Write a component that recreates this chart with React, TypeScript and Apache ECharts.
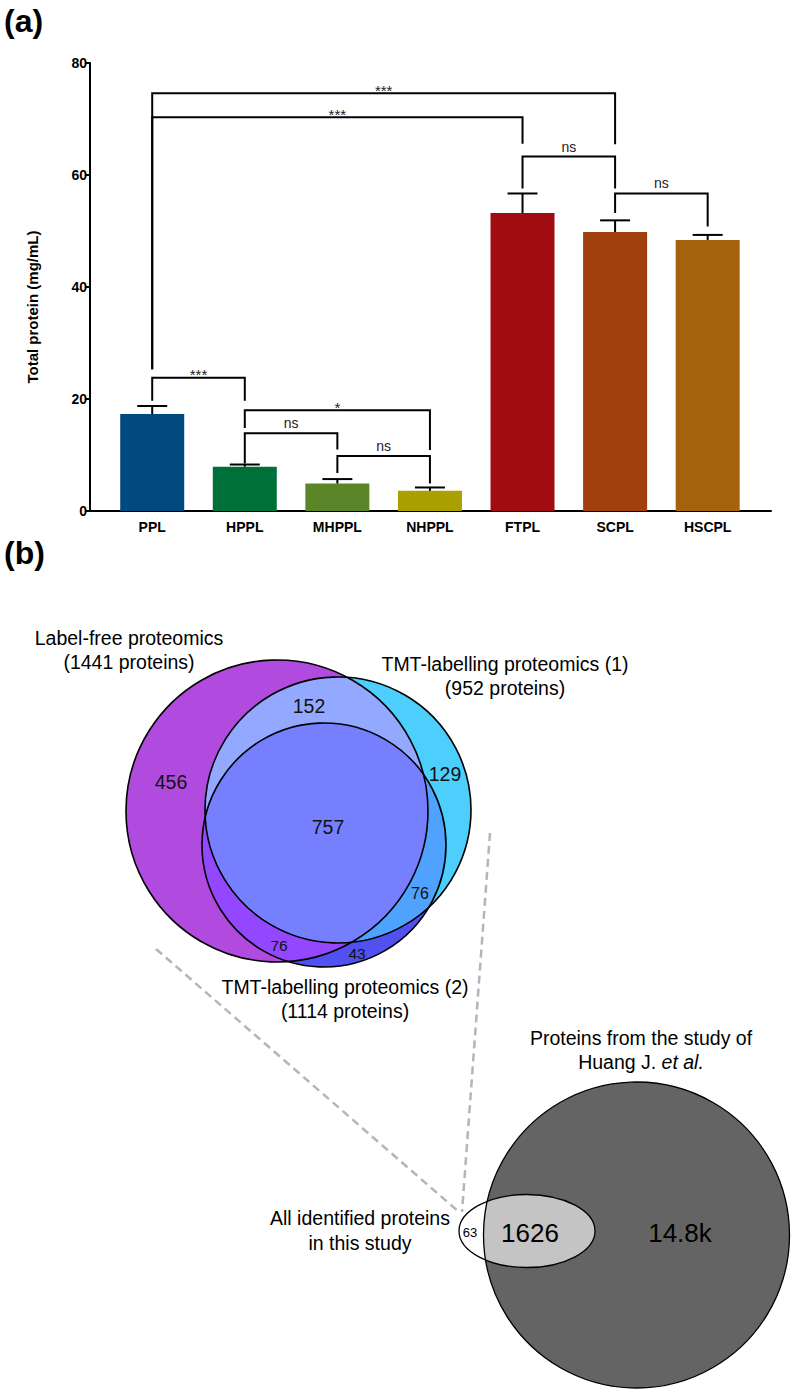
import React, { useEffect, useRef } from 'react';
import * as echarts from 'echarts';

// ---------- Panel (a) data ----------
const categories = ['PPL', 'HPPL', 'MHPPL', 'NHPPL', 'FTPL', 'SCPL', 'HSCPL'];
const meanValues = [17.3, 7.9, 4.9, 3.6, 53.2, 49.8, 48.4];
const errorValues = [1.45, 0.4, 0.8, 0.6, 3.5, 2.1, 0.9];
const barColors = ['#004a7f', '#00703a', '#5a8629', '#aaa100', '#a00c12', '#a0410d', '#a3620b'];
const yTickValues = [0, 20, 40, 60, 80];

// significance brackets
const bracketFrom = [0, 0, 4, 5, 0, 1, 1, 2];
const bracketTo = [5, 4, 5, 6, 1, 3, 2, 3];
const bracketLevel = [74.6, 70.3, 63.3, 56.7, 23.8, 18.0, 13.9, 9.8];
const bracketLeftEnd = [25.3, 25.3, 57.6, 53.2, 19.7, 14.8, 8.5, 6.8];
const bracketRightEnd = [65.5, 65.6, 57.6, 50.8, 19.7, 10.9, 11.0, 4.9];
const bracketLabels = ['***', '***', 'ns', 'ns', '***', '*', 'ns', 'ns'];

// ---------- Panel (b) data ----------
const vennSetNames = ['Label-free proteomics', 'TMT-labelling proteomics (1)', 'TMT-labelling proteomics (2)'];
const vennSetSizes = [1441, 952, 1114];
// regions: A only, B only, C only, A∩B, A∩C, B∩C, A∩B∩C  (A label-free, B TMT1, C TMT2)
const vennRegionCounts = [456, 129, 43, 152, 76, 76, 757];
const studyLeftLines = ['All identified proteins', 'in this study'];
const studyRightLines = ['Proteins from the study of', 'Huang J. ', 'et al.'];
const studyRegionCounts = ['63', '1626', '14.8k'];

const FONT = "'Liberation Sans', Arial, Helvetica, sans-serif";

type Pt = [number, number];

function ellipsePts(cx: number, cy: number, rx: number, ry: number, n = 360): Pt[] {
  const pts: Pt[] = [];
  for (let i = 0; i < n; i++) {
    const t = (i / n) * Math.PI * 2;
    pts.push([cx + rx * Math.cos(t), cy + ry * Math.sin(t)]);
  }
  return pts;
}

function clipPoly(subject: Pt[], clip: Pt[]): Pt[] {
  let output = subject.slice();
  const cross = (a: Pt, b: Pt, p: Pt) => (b[0] - a[0]) * (p[1] - a[1]) - (b[1] - a[1]) * (p[0] - a[0]);
  const inter = (p: Pt, q: Pt, a: Pt, b: Pt): Pt => {
    const A1 = q[1] - p[1], B1 = p[0] - q[0], C1 = A1 * p[0] + B1 * p[1];
    const A2 = b[1] - a[1], B2 = a[0] - b[0], C2 = A2 * a[0] + B2 * a[1];
    const det = A1 * B2 - A2 * B1;
    if (Math.abs(det) < 1e-12) return p;
    return [(B2 * C1 - B1 * C2) / det, (A1 * C2 - A2 * C1) / det];
  };
  for (let i = 0; i < clip.length; i++) {
    const a = clip[i];
    const b = clip[(i + 1) % clip.length];
    const input = output;
    output = [];
    if (!input.length) break;
    for (let j = 0; j < input.length; j++) {
      const cur = input[j];
      const prev = input[(j + input.length - 1) % input.length];
      const curIn = cross(a, b, cur) >= 0;
      const prevIn = cross(a, b, prev) >= 0;
      if (curIn) {
        if (!prevIn) output.push(inter(prev, cur, a, b));
        output.push(cur);
      } else if (prevIn) {
        output.push(inter(prev, cur, a, b));
      }
    }
  }
  return output;
}

function buildGraphic() {
  const els: any[] = [];
  const txt = (x: number, y: number, text: string, size: number, extra: any = {}) => ({
    type: 'text', x, y, z: 20,
    style: { text, fill: '#000', fontSize: size, fontFamily: FONT, align: 'center', verticalAlign: 'middle', ...extra },
  });

  // panel labels
  els.push({ type: 'text', x: 4, y: 21, z: 20, style: { text: '(a)', fill: '#000', fontSize: 32, fontWeight: 'bold', fontFamily: FONT, align: 'left', verticalAlign: 'middle' } });
  els.push({ type: 'text', x: 4, y: 553, z: 20, style: { text: '(b)', fill: '#000', fontSize: 32, fontWeight: 'bold', fontFamily: FONT, align: 'left', verticalAlign: 'middle' } });

  // y-axis title
  els.push({ type: 'text', x: 32, y: 307, rotation: Math.PI / 2, z: 20, style: { text: 'Total protein (mg/mL)', fill: '#000', fontSize: 15, fontWeight: 'bold', fontFamily: FONT, align: 'center', verticalAlign: 'middle' } });

  // dashed zoom lines
  const dash = { stroke: '#b5b5b5', lineWidth: 2.5, lineDash: [8, 5] };
  els.push({ type: 'line', z: 1, shape: { x1: 156, y1: 949, x2: 459, y2: 1212 }, style: dash });
  els.push({ type: 'line', z: 1, shape: { x1: 490, y1: 833, x2: 462, y2: 1212 }, style: dash });

  // --- three-set Venn ---
  const A = { cx: 277, cy: 811, r: 151 };
  const B = { cx: 338, cy: 810, r: 133 };
  const C = { cx: 324, cy: 845, r: 122 };
  const pA = ellipsePts(A.cx, A.cy, A.r, A.r);
  const pB = ellipsePts(B.cx, B.cy, B.r, B.r);
  const pC = ellipsePts(C.cx, C.cy, C.r, C.r);
  const colA = '#b14ade', colB = '#4dcffd', colC = '#5151f2';
  const colAB = '#93a9ff', colAC = '#9347ff', colBC = '#4fa3ff', colABC = '#7680ff';
  els.push({ type: 'circle', z: 5, shape: A, style: { fill: colA } });
  els.push({ type: 'circle', z: 5, shape: B, style: { fill: colB } });
  els.push({ type: 'circle', z: 5, shape: C, style: { fill: colC } });
  const AB = clipPoly(pA, pB);
  const AC = clipPoly(pA, pC);
  const BC = clipPoly(pB, pC);
  const ABC = clipPoly(AB, pC);
  els.push({ type: 'polygon', z: 6, shape: { points: AB }, style: { fill: colAB } });
  els.push({ type: 'polygon', z: 6, shape: { points: AC }, style: { fill: colAC } });
  els.push({ type: 'polygon', z: 6, shape: { points: BC }, style: { fill: colBC } });
  els.push({ type: 'polygon', z: 7, shape: { points: ABC }, style: { fill: colABC } });
  [A, B, C].forEach((c) => els.push({ type: 'circle', z: 8, shape: c, style: { fill: null, stroke: '#000', lineWidth: 1.6 } }));

  // region counts
  const regionPos: Pt[] = [[171, 782], [445, 774], [357, 953], [309, 706], [279, 945], [420, 893], [328, 827]];
  const regionSize = [19.5, 19.5, 15.5, 19.5, 15.5, 16, 19.5];
  vennRegionCounts.forEach((v, i) => els.push(txt(regionPos[i][0], regionPos[i][1], String(v), regionSize[i], { fill: '#111' })));

  // set labels
  const setPos: Pt[] = [[129, 638], [505, 664], [345, 987]];
  vennSetNames.forEach((n, i) => {
    els.push(txt(setPos[i][0], setPos[i][1], n, 19.5));
    els.push(txt(setPos[i][0], setPos[i][1] + 24, '(' + vennSetSizes[i] + ' proteins)', 19.5));
  });

  // --- two-set Venn ---
  const G = { cx: 636.5, cy: 1235, r: 153 };
  const E = { cx: 527, cy: 1231, rx: 68, ry: 36.5 };
  els.push({ type: 'circle', z: 5, shape: G, style: { fill: '#646464' } });
  els.push({ type: 'ellipse', z: 6, shape: E, style: { fill: '#ffffff' } });
  const EG = clipPoly(ellipsePts(E.cx, E.cy, E.rx, E.ry), ellipsePts(G.cx, G.cy, G.r, G.r));
  els.push({ type: 'polygon', z: 7, shape: { points: EG }, style: { fill: '#c4c4c4' } });
  els.push({ type: 'circle', z: 8, shape: G, style: { fill: null, stroke: '#000', lineWidth: 1.3 } });
  els.push({ type: 'ellipse', z: 8, shape: E, style: { fill: null, stroke: '#000', lineWidth: 1.3 } });

  els.push(txt(470, 1232, studyRegionCounts[0], 13));
  els.push(txt(530, 1233, studyRegionCounts[1], 26));
  els.push(txt(680, 1233, studyRegionCounts[2], 26));

  els.push(txt(360, 1218, studyLeftLines[0], 19.5));
  els.push(txt(360, 1243, studyLeftLines[1], 19.5));
  els.push(txt(641, 1038, studyRightLines[0], 19.5));
  els.push({
    type: 'text', x: 641, y: 1062, z: 20,
    style: {
      text: '{n|' + studyRightLines[1] + '}{i|' + studyRightLines[2] + '}',
      align: 'center', verticalAlign: 'middle',
      rich: {
        n: { fontSize: 19.5, fontFamily: FONT, fill: '#000' },
        i: { fontSize: 19.5, fontFamily: FONT, fontStyle: 'italic', fill: '#000' },
      },
    },
  });
  return els;
}

export default function App() {
  const ref = useRef<HTMLDivElement>(null);
  useEffect(() => {
    document.body.style.margin = '0';
    if (!ref.current) return;
    const chart = echarts.init(ref.current, undefined, { renderer: 'svg' });
    const option: any = {
      animation: false,
      backgroundColor: '#ffffff',
      grid: { left: 90, right: 23, top: 63, height: 448 },
      xAxis: {
        type: 'value',
        min: -0.672,
        max: 6.684,
        axisLine: { show: true, onZero: false, lineStyle: { color: '#000', width: 2 } },
        axisTick: { show: false },
        splitLine: { show: false },
        axisLabel: {
          customValues: categories.map((_, i) => i),
          formatter: (v: number) => {
            const i = Math.round(v);
            return Math.abs(v - i) < 1e-6 && categories[i] ? categories[i] : '';
          },
          fontWeight: 'bold',
          fontSize: 14,
          fontFamily: FONT,
          color: '#000',
          margin: 9,
        },
      },
      yAxis: {
        type: 'value',
        min: yTickValues[0],
        max: yTickValues[yTickValues.length - 1],
        interval: 20,
        axisLine: { show: true, onZero: false, lineStyle: { color: '#000', width: 2 } },
        axisTick: { show: true, length: 5, lineStyle: { color: '#000', width: 2 } },
        axisLabel: { fontWeight: 'bold', fontSize: 14, fontFamily: FONT, color: '#000', margin: 3 },
        splitLine: { show: false },
      },
      series: [
        {
          type: 'bar',
          barWidth: 64,
          z: 2,
          data: meanValues.map((v, i) => ({ value: [i, v], itemStyle: { color: barColors[i] } })),
        },
        {
          type: 'custom',
          z: 3,
          renderItem: (params: any, api: any) => {
            const x = api.value(0), m = api.value(1), e = api.value(2);
            const p0 = api.coord([x, m]);
            const p1 = api.coord([x, m + e]);
            const st = { stroke: '#000', lineWidth: 2 };
            return {
              type: 'group',
              children: [
                { type: 'line', shape: { x1: p0[0], y1: p0[1], x2: p1[0], y2: p1[1] }, style: st },
                { type: 'line', shape: { x1: p1[0] - 15, y1: p1[1], x2: p1[0] + 15, y2: p1[1] }, style: st },
              ],
            };
          },
          data: meanValues.map((v, i) => [i, v, errorValues[i]]),
        },
        {
          type: 'custom',
          z: 4,
          renderItem: (params: any, api: any) => {
            const i = params.dataIndex;
            const x1 = bracketFrom[i], x2 = bracketTo[i];
            const pts = [
              api.coord([x1, bracketLeftEnd[i]]),
              api.coord([x1, bracketLevel[i]]),
              api.coord([x2, bracketLevel[i]]),
              api.coord([x2, bracketRightEnd[i]]),
            ];
            const mid = api.coord([(x1 + x2) / 2, bracketLevel[i]]);
            const isStar = bracketLabels[i].indexOf('*') >= 0;
            return {
              type: 'group',
              children: [
                { type: 'polyline', shape: { points: pts }, style: { stroke: '#000', lineWidth: 2, fill: null } },
                {
                  type: 'text',
                  x: mid[0],
                  y: mid[1] - 3,
                  style: {
                    text: bracketLabels[i],
                    fill: '#222',
                    fontSize: isStar ? 15 : 14,
                    fontFamily: FONT,
                    align: 'center',
                    verticalAlign: isStar ? 'middle' : 'bottom',
                  },
                },
              ],
            };
          },
          data: bracketLabels.map((_, i) => [bracketFrom[i], bracketLevel[i], bracketTo[i]]),
        },
      ],
      graphic: { elements: buildGraphic() },
    };
    chart.setOption(option);
    return () => chart.dispose();
  }, []);
  return <div ref={ref} style={{ width: 794, height: 1393, background: '#fff' }} />;
}
